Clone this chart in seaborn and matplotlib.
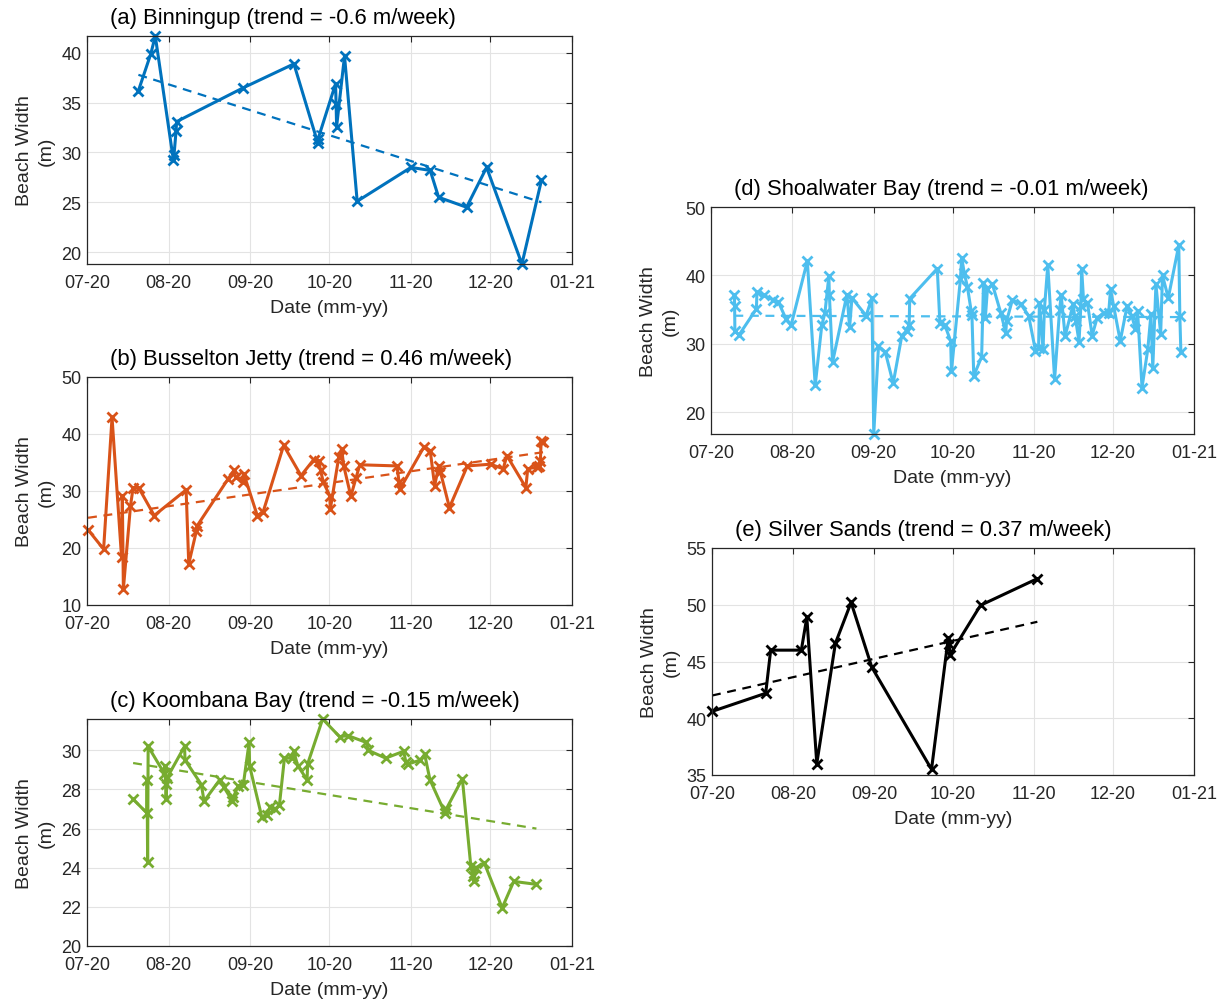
import numpy as np
import pandas as pd
import matplotlib
matplotlib.use("Agg")
import matplotlib.pyplot as plt
import matplotlib.dates as mdates
import seaborn as sns

# ---------------- data (days since 2020-07-01, beach width in m) ----------------
START = "2020-07-01"
END = "2021-01-01"

a_days = [19.5, 24.2, 25.9, 32.8, 33.0, 33.8, 34.0, 59.3, 78.5, 87.5, 87.7, 94.3, 94.5,
          94.7, 97.7, 102.5, 122.9, 130.2, 133.4, 144.0, 151.6, 165.0, 172.4]
a_width = [36.2, 39.9, 41.7, 29.2, 29.7, 32.2, 33.1, 36.5, 38.9, 31.0, 31.4, 36.9, 34.9,
           32.6, 39.7, 25.1, 28.5, 28.2, 25.5, 24.5, 28.5, 18.8, 27.2]
a_trend = [37.8, 25.0]

b_days = [0.4, 6.3, 9.5, 13.1, 13.4, 13.8, 16.5, 17.5, 19.7, 25.5, 37.6, 38.6, 41.5, 41.8,
          53.5, 55.7, 56.4, 59.3, 59.5, 64.6, 66.8, 74.6, 81.2, 86.0, 87.9, 88.6, 89.7,
          92.1, 92.3, 95.5, 96.6, 97.4, 100.1, 102.0, 103.5, 117.6, 118.4, 118.8, 127.8,
          130.2, 131.9, 133.4, 134.1, 137.5, 144.3, 153.1, 157.9, 159.3, 166.5, 167.2,
          170.6, 171.6, 172.0, 172.3, 173.0]
b_width = [23.2, 19.8, 42.9, 18.4, 29.2, 12.8, 27.4, 30.6, 30.5, 25.7, 30.2, 17.2, 23.0, 23.9,
           32.1, 33.6, 32.4, 31.5, 33.0, 25.7, 26.3, 38.0, 32.7, 35.5, 35.3, 33.6, 31.5,
           29.2, 26.8, 35.9, 37.4, 34.4, 29.1, 32.2, 34.6, 34.4, 31.5, 30.4, 37.7,
           37.1, 30.9, 34.4, 33.3, 27.1, 34.4, 34.7, 33.9, 36.2, 30.6, 33.9,
           34.2, 34.4, 35.3, 38.7, 38.6]
b_trend = [25.3, 36.8]

c_days = [17.5, 22.7, 22.8, 23.0, 23.2, 29.4, 29.6, 29.8, 30.0, 30.4, 37.0, 37.2, 43.4, 44.4,
          50.4, 52.0, 55.2, 55.5, 57.4, 59.3, 61.5, 61.7, 66.3, 68.2, 69.5, 71.4, 73.0,
          74.9, 77.6, 78.4, 80.0, 83.5, 83.7, 89.4, 95.8, 99.0, 106.0, 106.7, 113.3,
          120.1, 121.0, 121.8, 126.5, 128.1, 130.1, 135.8, 136.3, 142.4, 145.6, 146.3,
          146.8, 147.5, 150.7, 157.5, 161.9, 170.5]
c_width = [27.5, 26.8, 28.5, 24.3, 30.2, 28.8, 29.2, 28.3, 27.5, 28.6, 30.2, 29.5, 28.25, 27.4,
           28.5, 28.1, 27.4, 27.6, 28.2, 28.25, 30.4, 29.2, 26.6, 26.7, 27.1, 27.0, 27.2,
           29.6, 29.6, 29.95, 29.2, 28.5, 29.3, 31.6, 30.7, 30.75, 30.4, 30.0, 29.6,
           29.95, 29.4, 29.3, 29.5, 29.8, 28.5, 26.8, 27.0, 28.55, 24.1, 23.6,
           23.3, 24.0, 24.25, 21.95, 23.3, 23.15]
c_trend = [29.35, 26.0]

d_days = [8.9, 9.0, 9.1, 10.7, 17.3, 17.5, 20.2, 23.6, 25.7, 28.6, 30.5, 36.7, 39.7, 42.2,
          43.4, 44.9, 45.1, 46.3, 51.8, 52.8, 53.7, 59.1, 61.3, 62.0, 63.8, 66.4, 69.4,
          72.7, 74.5, 75.5, 75.7, 86.2, 87.2, 89.1, 91.3, 91.6, 95.0, 95.5, 96.5, 97.7,
          99.1, 99.4, 100.1, 103.1, 103.8, 104.5, 105.3, 107.2, 110.4, 112.3, 112.6,
          114.8, 118.0, 121.0, 123.6, 124.8, 125.1, 126.5, 127.0, 128.3, 130.9, 132.8,
          133.4, 134.9, 138.0, 138.5, 139.0, 140.2, 140.9, 141.2, 141.9, 143.4, 145.2,
          147.1, 149.7, 151.5, 152.2, 153.4, 155.9, 158.5, 160.3, 161.7, 162.5, 164.2,
          166.4, 167.6, 168.3, 169.5, 171.3, 172.0, 174.2, 178.2, 178.6, 179.0]
d_width = [37.2, 35.5, 31.8, 31.3, 35.1, 37.5, 37.1, 36.4, 36.1, 33.6, 32.7, 42.1, 23.9, 32.7,
           34.5, 39.9, 37.1, 27.3, 37.2, 32.4, 36.7, 34.1, 36.7, 16.8, 29.6, 28.8, 24.2,
           31.2, 31.9, 32.8, 36.6, 41.0, 33.0, 32.7, 30.4, 26.0, 39.4, 42.6, 40.3, 38.3,
           34.8, 34.2, 25.3, 28.1, 38.9, 33.7, 38.0, 38.7, 34.5, 31.6, 33.3,
           36.4, 35.8, 34.1, 29.0, 29.4, 36.0, 29.2, 35.0, 41.5, 24.8, 35.0,
           37.1, 31.1, 35.8, 34.1, 33.3, 30.3, 35.5, 41.0, 36.5, 36.0, 31.2,
           33.8, 34.5, 34.5, 38.0, 35.5, 30.4, 35.5, 34.1, 32.1, 34.8, 23.6,
           29.2, 34.3, 26.4, 38.7, 31.4, 40.0, 36.7, 44.4, 34.1, 28.8]
d_trend = [34.1, 33.9]

e_days = [0.0, 20.5, 22.4, 34.1, 36.2, 40.0, 47.1, 53.1, 61.0, 83.8, 90.2, 90.5, 90.9,
          102.5, 124.2]
e_width = [40.6, 42.2, 46.0, 46.0, 48.9, 36.0, 46.6, 50.2, 44.5, 35.5, 47.1, 46.5, 45.6,
           49.95, 52.3]
e_trend = [42.0, 48.5]

titles = ["(a) Binningup (trend = -0.6 m/week)",
          "(b) Busselton Jetty (trend = 0.46 m/week)",
          "(c) Koombana Bay (trend = -0.15 m/week)",
          "(d) Shoalwater Bay (trend = -0.01 m/week)",
          "(e) Silver Sands (trend = 0.37 m/week)"]
colors = ["#0072BD", "#D95319", "#77AC30", "#4DBEEE", "#000000"]
ylims = [(18.8, 41.7), (10, 50), (20, 31.6), (16.8, 50), (35, 55)]
yticks = [[20, 25, 30, 35, 40], [10, 20, 30, 40, 50], [20, 22, 24, 26, 28, 30],
          [20, 30, 40, 50], [35, 40, 45, 50, 55]]

# axes boxes in pixels: left, top, right, bottom
boxes = [(87, 37, 572, 265), (87, 378, 572, 606), (87, 720, 572, 947),
         (711, 208, 1194, 435), (712, 549, 1194, 776)]

series = [(a_days, a_width, a_trend), (b_days, b_width, b_trend), (c_days, c_width, c_trend),
          (d_days, d_width, d_trend), (e_days, e_width, e_trend)]

# ---------------- style ----------------
sns.set_theme(style="white")
plt.rcParams["font.family"] = ["Liberation Sans", "DejaVu Sans"]
dark = "#262626"

W, H = 1222, 1003
fig = plt.figure(figsize=(W / 100, H / 100), dpi=100)
fig.patch.set_facecolor("white")

t0 = pd.Timestamp(START)
month_starts = pd.date_range(START, END, freq="MS")

for (days, width, trend), title, col, yl, yt, (l, t, r, b) in zip(
        series, titles, colors, ylims, yticks, boxes):
    ax = fig.add_axes([l / W, 1 - b / H, (r - l) / W, (b - t) / H])
    df = pd.DataFrame({"Date": t0 + pd.to_timedelta(days, unit="D"), "Width": width})
    sns.lineplot(data=df, x="Date", y="Width", ax=ax, estimator=None, sort=False,
                 color=col, lw=2.2, marker="x", markersize=7.5, markeredgewidth=2,
                 markeredgecolor=col)
    for ln in ax.lines:
        ln.set_clip_on(False)
    tr = pd.DataFrame({"Date": [df["Date"].iloc[0], df["Date"].iloc[-1]], "Width": trend})
    sns.lineplot(data=tr, x="Date", y="Width", ax=ax, estimator=None, sort=False,
                 color=col, lw=1.6, linestyle=(0, (4, 3)))

    ax.set_xlim(pd.Timestamp(START), pd.Timestamp(END))
    ax.set_xticks(month_starts)
    ax.xaxis.set_major_formatter(mdates.DateFormatter("%m-%y"))
    ax.set_ylim(*yl)
    ax.set_yticks(yt)
    ax.grid(True, color="#e3e3e3", lw=0.8)
    ax.set_axisbelow(True)
    ax.tick_params(direction="in", top=True, right=True, length=4, width=0.8,
                   color=dark, labelsize=13, labelcolor=dark)
    ax.tick_params(axis="x", pad=7)
    ax.tick_params(axis="y", pad=4)
    for sp in ax.spines.values():
        sp.set_color(dark)
        sp.set_linewidth(0.9)
    ax.set_xlabel("Date (mm-yy)", fontsize=14, color=dark, labelpad=6)
    ax.set_ylabel("Beach Width\n(m)", fontsize=14, color=dark, labelpad=5,
                  linespacing=1.3)
    hpx = b - t
    ax.text(23 / (r - l), 1 + 13 / hpx, title, transform=ax.transAxes, ha="left",
            va="baseline", fontsize=15.8, color="black")

fig.savefig("out.png", dpi=100, facecolor="white")
